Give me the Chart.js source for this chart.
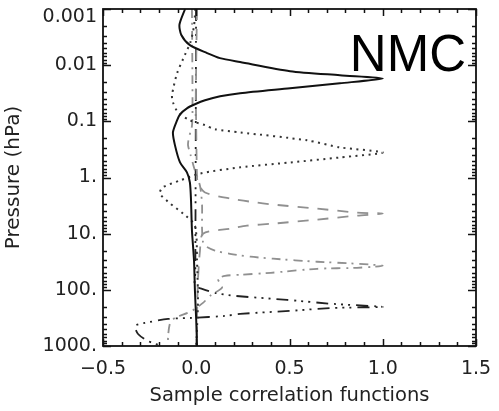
<!DOCTYPE html>
<html>
<head>
<meta charset="utf-8">
<script src="https://cdn.jsdelivr.net/npm/chart.js@4.4.0/dist/chart.umd.min.js"></script>
<style>
html,body{margin:0;padding:0;background:#fff;}
#wrap{width:499px;height:411px;}
</style>
</head>
<body>
<div id="wrap"><canvas id="c" width="499" height="411"></canvas></div>
<script>
// ---- data (pressure in hPa, sample correlation) ----
const s1Pressure = [0.001,0.0019,0.0029,0.0044,0.0061,0.0075,0.0088,0.0128,0.0151,0.0172,0.021,0.0258,0.0316,0.0358,0.0422,0.0497,0.0586,0.075,0.096,0.157,0.268,0.54,0.81,1.23,2.6,8.8,30,105,358,1000];
const s1Corr     = [-0.06,-0.09,-0.08,-0.034,0.058,0.127,0.235,0.503,0.77,1.0,0.77,0.503,0.235,0.128,0.047,-0.007,-0.05,-0.087,-0.103,-0.125,-0.114,-0.087,-0.05,-0.034,-0.028,-0.023,-0.012,-0.007,0.0,0.004];

const s2Pressure = [0.001,0.002,0.0038,0.0065,0.014,0.0343,0.0458,0.069,0.096,0.117,0.138,0.157,0.218,0.291,0.358,0.44,0.54,0.66,0.85,1.13,1.5,1.93,2.9,4.4,7.2,30,157,1000];
const s2Corr     = [-0.005,-0.012,-0.03,-0.06,-0.103,-0.13,-0.125,-0.098,-0.034,0.047,0.1,0.235,0.594,0.77,1.0,0.77,0.503,0.235,0.02,-0.087,-0.18,-0.195,-0.14,-0.07,-0.007,0.004,0.009,0.0];

const s3Pressure = [0.001,0.008,0.042,0.145,0.5,0.92,1.28,1.85,2.37,2.8,3.03,3.58,4.22,4.39,4.77,5.62,6.63,7.2,8.14,10,20,69,358,1000];
const s3Corr     = [0.004,0.0,-0.002,0.0,0.002,0.004,0.009,0.047,0.181,0.326,0.412,0.648,0.862,1.0,0.862,0.648,0.412,0.272,0.181,0.036,0.02,0.009,0.004,0.004];

const s4Pressure = [0.001,0.05,0.12,0.2,0.268,0.4,0.7,1.4,3,8,14,16.4,20,22.8,25.7,27.9,31.6,34.3,37.3,40.5,42.2,49.7,54,56.2,63.6,75,92,128,171,237,316,388,663,1000];
const s4Corr     = [-0.023,-0.02,-0.023,-0.04,-0.044,-0.03,-0.01,0.02,0.031,0.031,0.036,0.047,0.1,0.181,0.29,0.412,0.648,0.862,1.0,0.862,0.648,0.4,0.235,0.154,0.117,0.125,0.138,0.074,0.036,-0.023,-0.114,-0.14,-0.151,-0.151];

const s5Pressure = [0.001,50,84.8,96,113,128,151,178,201,210,237,268,291,316,330,388,440,611,815,1000];
const s5Corr     = [-0.001,-0.005,-0.007,0.031,0.1,0.208,0.487,0.733,1.0,0.733,0.503,0.235,0.154,-0.023,-0.151,-0.275,-0.328,-0.312,-0.259,-0.184];

const xTickValues = [-0.5,0.0,0.5,1.0,1.5];
const xTickLabels = ['\u22120.5','0.0','0.5','1.0','1.5'];
const yTickValues = [0.001,0.01,0.1,1,10,100,1000];
const yTickLabels = ['0.001','0.01','0.1','1.','10.','100.','1000.'];
const xTitle = 'Sample correlation functions';
const yTitle = 'Pressure (hPa)';
const panelLabel = 'NMC';

function pts(p, c){ return p.map((v,i)=>({x:c[i], y:v})); }

const FONT = 'DejaVu Sans';

const boxTicks = {
  id: 'boxTicks',
  afterDraw(chart){
    const {ctx, chartArea:a, scales:{x, y}} = chart;
    ctx.save();
    ctx.setLineDash([]);
    ctx.strokeStyle = '#111';
    ctx.lineWidth = 1.8;
    ctx.strokeRect(a.left, a.top, a.right-a.left, a.bottom-a.top);
    ctx.lineWidth = 1.5;
    ctx.beginPath();
    // x ticks every 0.1, major every 0.5
    for (let i = 0; i <= 20; i++){
      const v = -0.5 + i*0.1;
      const px = Math.round(x.getPixelForValue(v)) + 0.5;
      const len = (i % 5 === 0) ? 7 : 4;
      ctx.moveTo(px, a.bottom); ctx.lineTo(px, a.bottom - len);
      ctx.moveTo(px, a.top); ctx.lineTo(px, a.top + len);
    }
    // y ticks: decades and 2..9 minors
    for (let d = -3; d <= 3; d++){
      for (let m = 1; m <= 9; m++){
        const v = m*Math.pow(10,d);
        if (v > 1000.0001) continue;
        const py = Math.round(y.getPixelForValue(v)) + 0.5;
        const len = (m === 1) ? 8 : 4;
        ctx.moveTo(a.left, py); ctx.lineTo(a.left + len, py);
        ctx.moveTo(a.right, py); ctx.lineTo(a.right - len, py);
      }
    }
    ctx.stroke();
    // panel label
    ctx.fillStyle = '#000';
    ctx.font = '51px "Liberation Sans"';
    ctx.textAlign = 'right';
    ctx.textBaseline = 'alphabetic';
    ctx.fillText(panelLabel, a.right - 10, a.top + 62);
    ctx.restore();
  }
};

new Chart(document.getElementById('c').getContext('2d'), {
  type: 'line',
  data: {
    datasets: [
      { data: pts(s1Pressure, s1Corr), borderColor:'#111', borderWidth:2 },
      { data: pts(s2Pressure, s2Corr), borderColor:'#333', borderWidth:2, borderDash:[2,4.5] },
      { data: pts(s3Pressure, s3Corr), borderColor:'#909090', borderWidth:1.8, borderDash:[11,9] },
      { data: pts(s4Pressure, s4Corr), borderColor:'#909090', borderWidth:1.8, borderDash:[9,5,2,6] },
      { data: pts(s5Pressure, s5Corr), borderColor:'#222', borderWidth:1.8, borderDash:[12,6,2,5,2,5,2,6] }
    ]
  },
  options: {
    indexAxis: 'y',
    responsive: false,
    animation: false,
    devicePixelRatio: 1,
    layout: { padding: { top: 9, right: 23, left: 0, bottom: 0 } },
    plugins: { legend: { display: false }, tooltip: { enabled: false } },
    elements: { point: { radius: 0 }, line: { tension: 0.25, fill: false } },
    scales: {
      x: {
        type: 'linear', position: 'bottom', min: -0.5, max: 1.5,
        afterFit(s){ s.height = 65; s.paddingLeft = 0; s.paddingRight = 0; },
        afterBuildTicks(s){ s.ticks = xTickValues.map(v=>({value:v})); },
        grid: { display: false, drawTicks: false },
        border: { display: false },
        ticks: { padding: 12, maxRotation: 0, autoSkip: false, color:'#222',
                 font: { family: FONT, size: 19 },
                 callback: (v, i) => xTickLabels[i] },
        title: { display: true, text: xTitle, color:'#222',
                 font: { family: FONT, size: 19.5 }, padding: { top: 0, bottom: 3 } }
      },
      y: {
        type: 'logarithmic', position: 'left', reverse: true, min: 0.001, max: 1000,
        afterFit(s){ s.width = 103; s.paddingTop = 0; s.paddingBottom = 0; },
        afterBuildTicks(s){ s.ticks = yTickValues.map(v=>({value:v, major:true})); },
        grid: { display: false, drawTicks: false },
        border: { display: false },
        ticks: { padding: 6, autoSkip: false, color:'#222',
                 font: { family: FONT, size: 19, lineHeight: 0.85 },
                 callback: (v, i) => (i === 0 ? ['', yTickLabels[i]] : yTickLabels[i]) },
        title: { display: true, text: yTitle, color:'#222',
                 font: { family: FONT, size: 20 }, padding: { top: 2, bottom: 0 } }
      }
    }
  },
  plugins: [boxTicks]
});
</script>
</body>
</html>
